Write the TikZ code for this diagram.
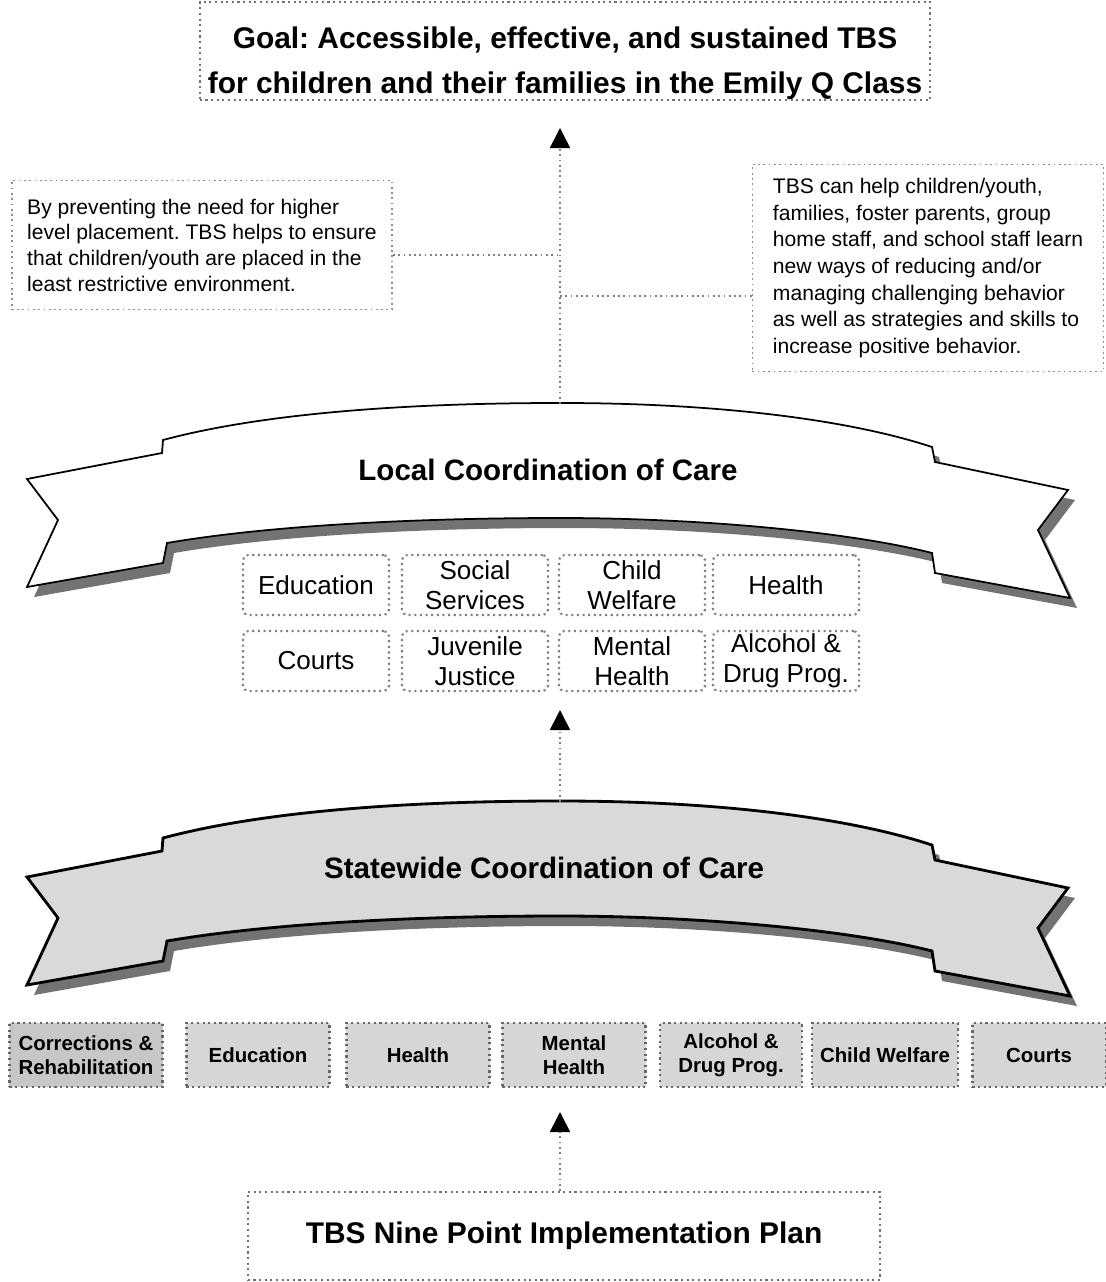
\documentclass[tikz,border=0pt]{standalone}
\usepackage{fontspec}
\setmainfont{Liberation Sans}
\usetikzlibrary{arrows.meta}

% outline of one curved ribbon, in pixel units
\newcommand{\ribbonoutline}{(163,440) .. controls (260,414) and (400,403) .. (560,403) .. controls (720,403) and (850,420) .. (932,447) -- (935,462) -- (1068,490) -- (1038,530) -- (1070,598) -- (935,573) -- (932,553) .. controls (850,532) and (700,518) .. (560,518) .. controls (400,518) and (260,527) .. (167,543) -- (163,563) -- (27,587) -- (58,520) -- (27,479) -- (162,453) -- cycle}

\tikzset{
  goalbox/.style={draw=black!55, densely dotted, line width=0.6pt, fill=white, inner sep=0pt},
  goaltext/.style={align=center, inner sep=0pt, font=\fontsize{8.5}{12.7}\selectfont\bfseries},
  notebox/.style={draw=black!45, densely dotted, line width=0.5pt, align=left, inner sep=0pt, font=\fontsize{6.0}{7.3}\selectfont},
  localbox/.style={draw=black!50, densely dotted, line width=0.6pt, fill=white, rounded corners=1.5pt, minimum width=1.46cm, minimum height=0.6cm, align=center, inner sep=0pt, font=\fontsize{7.4}{8.5}\selectfont},
  statebox/.style={draw=black!60, densely dotted, line width=0.6pt, fill=gray!32, minimum height=0.64cm, align=center, inner sep=0pt, font=\fontsize{5.8}{6.8}\selectfont\bfseries},
  ribbontitle/.style={font=\fontsize{8.4}{10}\selectfont\bfseries},
  ribbonback/.style={fill=black!55},
  ribbonedge/.style={draw=black, line width=0.5pt},
  link/.style={black!50, densely dotted, line width=0.5pt},
  flow/.style={link, -{Triangle[color=black, width=0.2cm, length=0.2cm]}}
}

\begin{document}
\frenchspacing
\begin{tikzpicture}[x=0.01cm, y=-0.01cm]
  \useasboundingbox (0,0) rectangle (1105,1282);

  % goal and side notes
  \node[goalbox, minimum width=7.3cm, minimum height=0.98cm] (goal) at (565,51) {};
  \node[goaltext] (goal-text) at (565,63) {Goal: Accessible, effective, and sustained TBS\\for children and their families in the Emily Q Class};
  \node[notebox, minimum width=3.8cm, minimum height=1.29cm] (leftnote) at (202,245) {By preventing the need for higher\\level placement. TBS helps to ensure\\that children/youth are placed in the\\least restrictive environment.};
  \node[notebox, minimum width=3.51cm, minimum height=2.07cm, font=\fontsize{6.0}{7.55}\selectfont] (rightnote) at (928,268) {TBS can help children/youth,\\families, foster parents, group\\home staff, and school staff learn\\new ways of reducing and/or\\managing challenging behavior\\as well as strategies and skills to\\increase positive behavior.};

  % local ribbon
  \fill[ribbonback, shift={(7,10)}] \ribbonoutline;
  \draw[ribbonedge, fill=white] \ribbonoutline;
  \node[ribbontitle] (local) at (548,470) {Local Coordination of Care};

  \node[localbox] (loc-edu) at (316,585) {Education};
  \node[localbox] (loc-soc) at (475,585) {Social\\Services};
  \node[localbox] (loc-cw) at (632,585) {Child\\Welfare};
  \node[localbox] (loc-hlth) at (786,585) {Health};
  \node[localbox] (loc-crt) at (316,661) {Courts};
  \node[localbox] (loc-jj) at (475,661) {Juvenile\\Justice};
  \node[localbox] (loc-mh) at (632,661) {Mental\\Health};
  \node[localbox] (loc-adp) at (786,661) {Alcohol \&\\Drug Prog.};

  % statewide ribbon
  \begin{scope}[shift={(0,398)}]
    \fill[ribbonback, shift={(7,10)}] \ribbonoutline;
    \draw[ribbonedge, fill=gray!30, line width=0.8pt] \ribbonoutline;
  \end{scope}
  \node[ribbontitle] (state) at (544,868) {Statewide Coordination of Care};

  \node[statebox, minimum width=1.53cm, fill=gray!44] (st-cr) at (86,1055) {Corrections \&\\Rehabilitation};
  \node[statebox, minimum width=1.43cm] (st-edu) at (258,1055) {Education};
  \node[statebox, minimum width=1.43cm] (st-hlth) at (418,1055) {Health};
  \node[statebox, minimum width=1.43cm] (st-mh) at (574,1055) {Mental\\Health};
  \node[statebox, minimum width=1.42cm] (st-adp) at (731,1055) {Alcohol \&\\Drug Prog.};
  \node[statebox, minimum width=1.46cm] (st-cw) at (885,1055) {Child Welfare};
  \node[statebox, minimum width=1.33cm] (st-crt) at (1039,1055) {Courts};

  % plan
  \node[goalbox, minimum width=6.32cm, minimum height=0.88cm, font=\fontsize{8.5}{10}\selectfont\bfseries] (plan) at (564,1236) {TBS Nine Point Implementation Plan};

  % connectors
  \coordinate (localtop) at (560,404);
  \coordinate (statetop) at (560,802);
  \coordinate (goaltip) at (560,128);
  \coordinate (localtip) at (560,710);
  \coordinate (statetip) at (560,1112);
  \coordinate (jl) at (560,255);
  \coordinate (jr) at (560,296);
  \draw[flow] (localtop) -- (goaltip);
  \draw[flow] (statetop) -- (localtip);
  \draw[flow] (plan.north -| statetip) -- (statetip);
  \draw[link] (leftnote.east |- jl) -- (jl);
  \draw[link] (jr) -- (rightnote.west |- jr);
\end{tikzpicture}
\end{document}
